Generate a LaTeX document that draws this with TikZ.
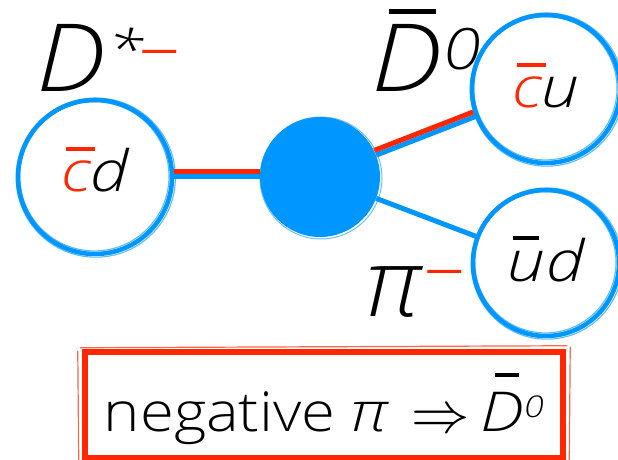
\documentclass[tikz,border=0pt]{standalone}
\usepackage{fontspec}
\setmainfont{Open Sans}[UprightFont=* Light, ItalicFont=* Light Italic,
  UprightFeatures={FakeStretch=1.12}, ItalicFeatures={FakeStretch=1.2}]
\definecolor{kblue}{RGB}{0,150,255}
\definecolor{kred}{RGB}{255,38,0}
% bar over a letter: #1 shift, #2 width, #3 raise, #4 thickness, #5 letter
\newcommand\barov[5]{\leavevmode\rlap{\hspace{#1}\raisebox{#3}{\rule{#2}{#4}}}#5}
\newcommand\supfont{\fontsize{52}{52}\selectfont}
\newcommand\minfont{\fontsize{64}{64}\selectfont}
\begin{document}
\begin{tikzpicture}[x=1pt,y=1pt,
  ringc/.style={circle, draw=kblue, line width=4.5pt, minimum size=#1, inner sep=0pt,
    font=\fontsize{57}{57}\selectfont\itshape},
  big/.style={inner sep=0pt, anchor=base west, font=\fontsize{94}{94}\selectfont\itshape},
  blueline/.style={draw=kblue, line width=5pt},
  redline/.style={draw=kred, line width=5pt},
  sk/.style={draw=kblue, line width=1.1pt, opacity=.65}
]
\useasboundingbox (0,0) rectangle (618,460);

% mesons
\node[ringc=154pt, text height=30pt, text depth=0pt] (cd) at (95,283)
  {\textcolor{kred}{\barov{5pt}{29pt}{41pt}{4pt}{c}}d};
\node[ringc=148pt, text height=38pt, text depth=0pt] (cu) at (546,371)
  {\textcolor{kred}{\barov{5pt}{29pt}{41pt}{4pt}{c}}u};
\node[ringc=146pt, text height=38pt, text depth=0pt] (ud) at (546,197)
  {\barov{5pt}{26pt}{42pt}{4pt}{u}d};
\node[circle, fill=kblue, minimum size=120pt, inner sep=0pt] (blob) at (320,283) {};

% sketchy extra rings
\foreach \n/\r in {cd/77,cu/74,ud/73}{
  \draw[sk] ([shift={(0.8,-0.6)}]\n.center) circle[radius=\r+2.6];
  \draw[sk] ([shift={(-0.6,0.7)}]\n.center) circle[radius=\r-2.4];
}
\draw[kblue, line width=1pt, opacity=.6] ([shift={(1,-1)}]blob.center) circle[radius=61];

% connectors
\draw[blueline] (cd) -- (blob);
\draw[redline, transform canvas={yshift=5pt}] (cd) -- (blob);
\draw[blueline] (blob) -- (cu);
\draw[redline, transform canvas={shift={(-1.8,4.7)}}] (blob) -- (cu);
\draw[blueline] (blob) -- (ud);

% labels
\node[big] (Dst) at (36,368)
  {\makebox[72pt][l]{\scalebox{0.93}[1]{D}}\makebox[28pt][l]{\raisebox{24pt}{\supfont *}}\raisebox{17pt}{\minfont\textcolor{kred}{−}}};
\node[big] (Db) at (371,368)
  {\makebox[72pt][l]{\barov{18pt}{47pt}{78pt}{4.5pt}{\scalebox{0.95}[1]{D}}}\raisebox{22pt}{\fontsize{57}{57}\selectfont 0}};
\node[big] (pi) at (366,143)
  {\makebox[55pt][l]{\scalebox{0.88}[1]{π}}\raisebox{22pt}{\minfont\textcolor{kred}{−}}};

% box
\node[draw=kred, line width=6.5pt, minimum width=478pt, minimum height=106pt, inner sep=0pt,
  font=\fontsize{55}{55}\selectfont, text height=70pt, text depth=16pt] (box) at (324,55)
  {negative {\itshape π}\hspace{8pt} \raisebox{-1pt}{\scalebox{2.35}{$\Rightarrow$}}\hspace{-5pt} {\itshape\barov{14pt}{24pt}{55pt}{3.5pt}{D}\raisebox{14pt}{\fontsize{30}{30}\selectfont 0}}\hspace{10pt}};
\draw[kred, line width=1.2pt, opacity=.7] ([shift={(-2,1)}]box.north west) -- ([shift={(1,3)}]box.north east);
\draw[kred, line width=1.2pt, opacity=.7] ([shift={(-4,-2)}]box.north west) -- ([shift={(-3,0)}]box.south west);
\draw[kred, line width=1.2pt, opacity=.7] ([shift={(4,2)}]box.north east) -- ([shift={(3,0)}]box.south east);
\end{tikzpicture}
\end{document}
